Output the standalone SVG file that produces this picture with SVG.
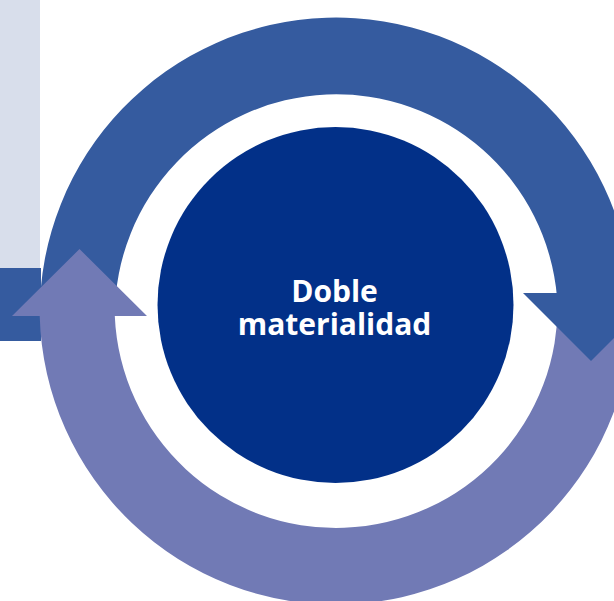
<svg xmlns="http://www.w3.org/2000/svg" width="614" height="601" viewBox="0 0 614 601">
<style>
.blue{fill:#355B9F}
.purple{fill:#717AB5}
.core{fill:#023088}
.side{fill:#D8DEEB}
.label{font-family:"Open Sans","Noto Sans","Liberation Sans",sans-serif;font-weight:700;font-size:30px;fill:#FFFFFF;text-anchor:middle}
</style>
<rect width="614" height="601" fill="#FFFFFF"/>
<g id="side-panel">
<rect class="side" x="0" y="0" width="40" height="268"/>
<rect class="blue" x="0" y="268" width="41" height="73"/>
</g>
<g id="connectors">
<path id="arrow-top-body" class="blue" d="M 39.7,316 A 296.5 296.5 0 0 1 632.2,297 L 557,297 A 221.5 221.5 0 0 0 114.8,316 Z"/>
<path id="arrow-bottom" class="purple" d="M 557.5,300 A 221.5 221.5 0 0 1 114.8,316 L 147,316 L 79.5,249 L 12,316 L 39.7,316 A 296.5 296.5 0 0 0 632.5,300 Z"/>
<path id="arrow-top-head" class="blue" d="M 523,293 L 659,293 L 591,361 Z"/>
</g>
<g id="node-center">
<circle class="core" cx="335.5" cy="305" r="178"/>
<text class="label" x="334.5" y="302">Doble</text>
<text class="label" x="334.5" y="335">materialidad</text>
</g>
</svg>
